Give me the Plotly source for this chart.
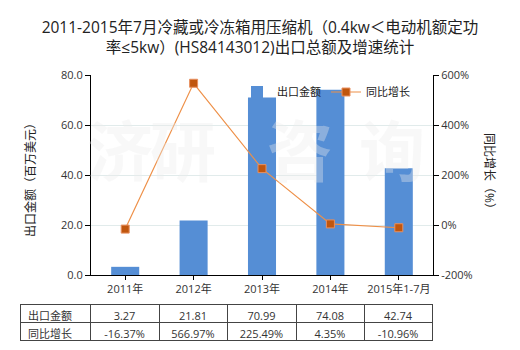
import plotly.graph_objects as go

categories = ["2011年", "2012年", "2013年", "2014年", "2015年1-7月"]
export_values = [3.27, 21.81, 70.99, 74.08, 42.74]
growth_values = [-16.37, 566.97, 225.49, 4.35, -10.96]
left_ticks = [0, 20, 40, 60, 80]
right_ticks = [-200, 0, 200, 400, 600]

W, H = 520, 350
ML, MR, MT, MB = 20, 87, 75, 5
PW, PH = W - ML - MR, H - MT - MB

def px_x(p):
    return (p - ML) / PW

def px_y(p):
    return (H - MB - p) / PH

FONT = "Open Sans, Noto Sans CJK SC, sans-serif"
TXT = "#333333"
BAR = "#558ED5"
LINE = "#EE9048"
MARK = "#C0560E"
GRID = "#E1EBEB"

fig = go.Figure()

fig.add_trace(go.Bar(
    x=categories, y=export_values, name="出口金额",
    marker=dict(color=BAR, line=dict(width=0)),
    width=0.41, xaxis="x", yaxis="y",
))
fig.add_trace(go.Scatter(
    x=categories, y=growth_values, name="同比增长",
    mode="lines+markers",
    line=dict(color=LINE, width=1.2),
    marker=dict(symbol="square", size=8, color=MARK, line=dict(width=1, color="#E89060")),
    xaxis="x", yaxis="y2",
))

row1 = ["出口金额"] + [f"{v:.2f}" for v in export_values]
row2 = ["同比增长"] + [f"{v:.2f}%" for v in growth_values]
fig.add_trace(go.Table(
    domain=dict(x=[0, px_x(432)], y=[0, px_y(304)]),
    columnwidth=[70, 69, 68, 69, 68, 68],
    header=dict(values=row1, height=18, align=["left"] + ["center"] * 5,
                line=dict(color="#444444", width=1), fill=dict(color="white"),
                font=dict(family=FONT, size=11, color=TXT)),
    cells=dict(values=[[v] for v in row2], height=18, align=["left"] + ["center"] * 5,
               line=dict(color="#444444", width=1), fill=dict(color="white"),
               font=dict(family=FONT, size=11, color=TXT)),
))

wm_color = "rgba(235,235,235,0.36)"
watermark = [("济", 120), ("研", 183), ("咨", 300), ("询", 392)]
annotations = [
    dict(text=f"<b>{ch}</b>", x=px_x(cx), y=px_y(147), xref="paper", yref="paper",
         xanchor="center", yanchor="middle", showarrow=False,
         font=dict(family="Noto Sans CJK SC", size=66, color=wm_color))
    for ch, cx in watermark
]
annotations += [
    dict(text="出口金额（百万美元）", x=px_x(30), y=px_y(177), xref="paper", yref="paper",
         xanchor="center", yanchor="middle",
         showarrow=False, textangle=-90, font=dict(size=12, color="#222222")),
    dict(text="同比增长（%）", x=px_x(490), y=px_y(174), xref="paper", yref="paper",
         xanchor="center", yanchor="middle",
         showarrow=False, textangle=90, font=dict(size=12, color="#222222")),
]

fig.update_layout(
    width=W, height=H,
    margin=dict(l=ML, r=MR, t=MT, b=MB, autoexpand=False),
    paper_bgcolor="white", plot_bgcolor="white",
    font=dict(family=FONT, size=11, color=TXT),
    title=dict(
        text="2011-2015年7月冷藏或冷冻箱用压缩机（0.4kw＜电动机额定功<br>率≤5kw）(HS84143012)出口总额及增速统计",
        x=0.5, xref="container", xanchor="center", y=1 - 33 / H, yref="container",
        yanchor="middle",
        font=dict(family=FONT, size=15.5, color="#222222"),
    ),
    xaxis=dict(
        domain=[px_x(91), 1], type="category", automargin=False,
        showline=True, linecolor="#000000", linewidth=1,
        ticks="outside", ticklen=4, tickcolor="#000000",
        tickfont=dict(size=11, color=TXT), showgrid=False,
    ),
    yaxis=dict(
        domain=[px_y(275), 1], range=[0, 80], tickvals=left_ticks,
        ticktext=[f"{v:.1f}" for v in left_ticks], automargin=False,
        showline=True, linecolor="#000000", linewidth=1,
        ticks="outside", ticklen=5, tickcolor="#000000",
        showgrid=True, gridcolor=GRID, gridwidth=1, zeroline=False,
        tickfont=dict(size=11, color=TXT),
    ),
    yaxis2=dict(
        overlaying="y", side="right", anchor="x", range=[-200, 600],
        tickvals=right_ticks, ticktext=[f"{v}%" for v in right_ticks], automargin=False,
        showline=True, linecolor="#000000", linewidth=1,
        ticks="outside", ticklen=5, tickcolor="#000000",
        showgrid=False, zeroline=False,
        tickfont=dict(size=11, color=TXT),
    ),
    legend=dict(
        orientation="h", x=px_x(237), xanchor="left", y=px_y(92), yanchor="middle",
        bgcolor="rgba(0,0,0,0)", font=dict(size=11, color="#222222"),
        itemwidth=30, traceorder="normal",
    ),
    annotations=annotations,
)

fig.write_html("out.html")
